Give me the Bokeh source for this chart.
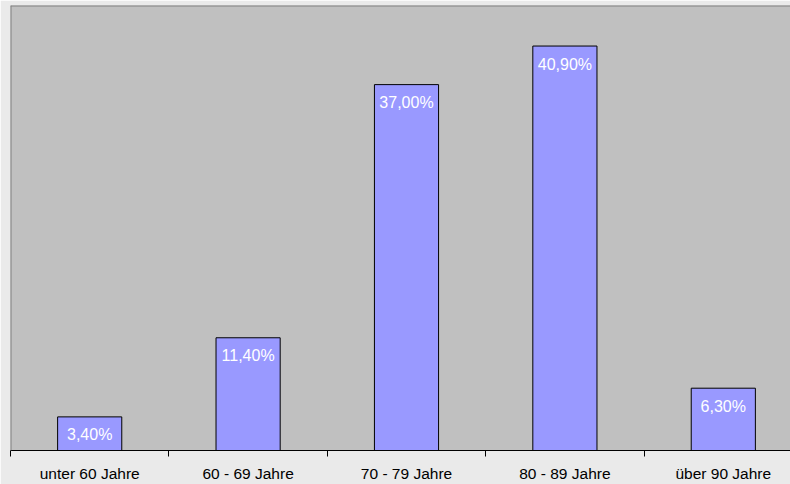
from bokeh.plotting import figure
from bokeh.models import Range1d, FixedTicker, Span, ColumnDataSource, LabelSet
from bokeh.core.properties import value
from bokeh.embed import file_html
from bokeh.resources import INLINE

categories = ["unter 60 Jahre", "60 - 69 Jahre", "70 - 79 Jahre", "80 - 89 Jahre", "über 90 Jahre"]
values = [3.4, 11.4, 37.0, 40.9, 6.3]
labels = ["3,40%", "11,40%", "37,00%", "40,90%", "6,30%"]

xs = [i + 0.5 for i in range(len(categories))]
src = ColumnDataSource(dict(x=xs, top=values, label=labels))

p = figure(width=790, height=484, output_backend="svg", toolbar_location=None,
           x_range=Range1d(0, 780 / 158.4), y_range=Range1d(0, 45),
           min_border_left=10, min_border_right=0, min_border_top=5, min_border_bottom=34)
p.background_fill_color = "#C0C0C0"
p.border_fill_color = "#EAEAEA"
p.outline_line_color = None
p.grid.visible = False
p.yaxis.visible = False

p.vbar(x="x", top="top", width=0.405, bottom=0, source=src,
       fill_color="#9999FF", line_color="black", line_width=1)

lbl = LabelSet(x="x", y="top", text="label", source=src, y_offset=-18,
               text_align="center", text_baseline="middle", text_color="white",
               text_font=value("Liberation Sans"), text_font_size="16px")
p.add_layout(lbl)

ax = p.xaxis[0]
ax.ticker = FixedTicker(ticks=xs, minor_ticks=list(range(len(categories) + 1)))
ax.major_label_overrides = {x: c for x, c in zip(xs, categories)}
ax.major_tick_out = 0
ax.major_tick_in = 0
ax.minor_tick_out = 6
ax.minor_tick_in = 0
ax.minor_tick_line_color = "black"
ax.axis_line_color = "black"
ax.major_label_standoff = 8
ax.major_label_text_font = "Liberation Sans"
ax.major_label_text_font_size = "15.5px"
ax.major_label_text_color = "black"

p.add_layout(Span(location=45, dimension="width", line_color="#808080", line_width=2))
p.add_layout(Span(location=0, dimension="height", line_color="#808080", line_width=2))

open("out.html", "w").write(file_html(p, INLINE))
